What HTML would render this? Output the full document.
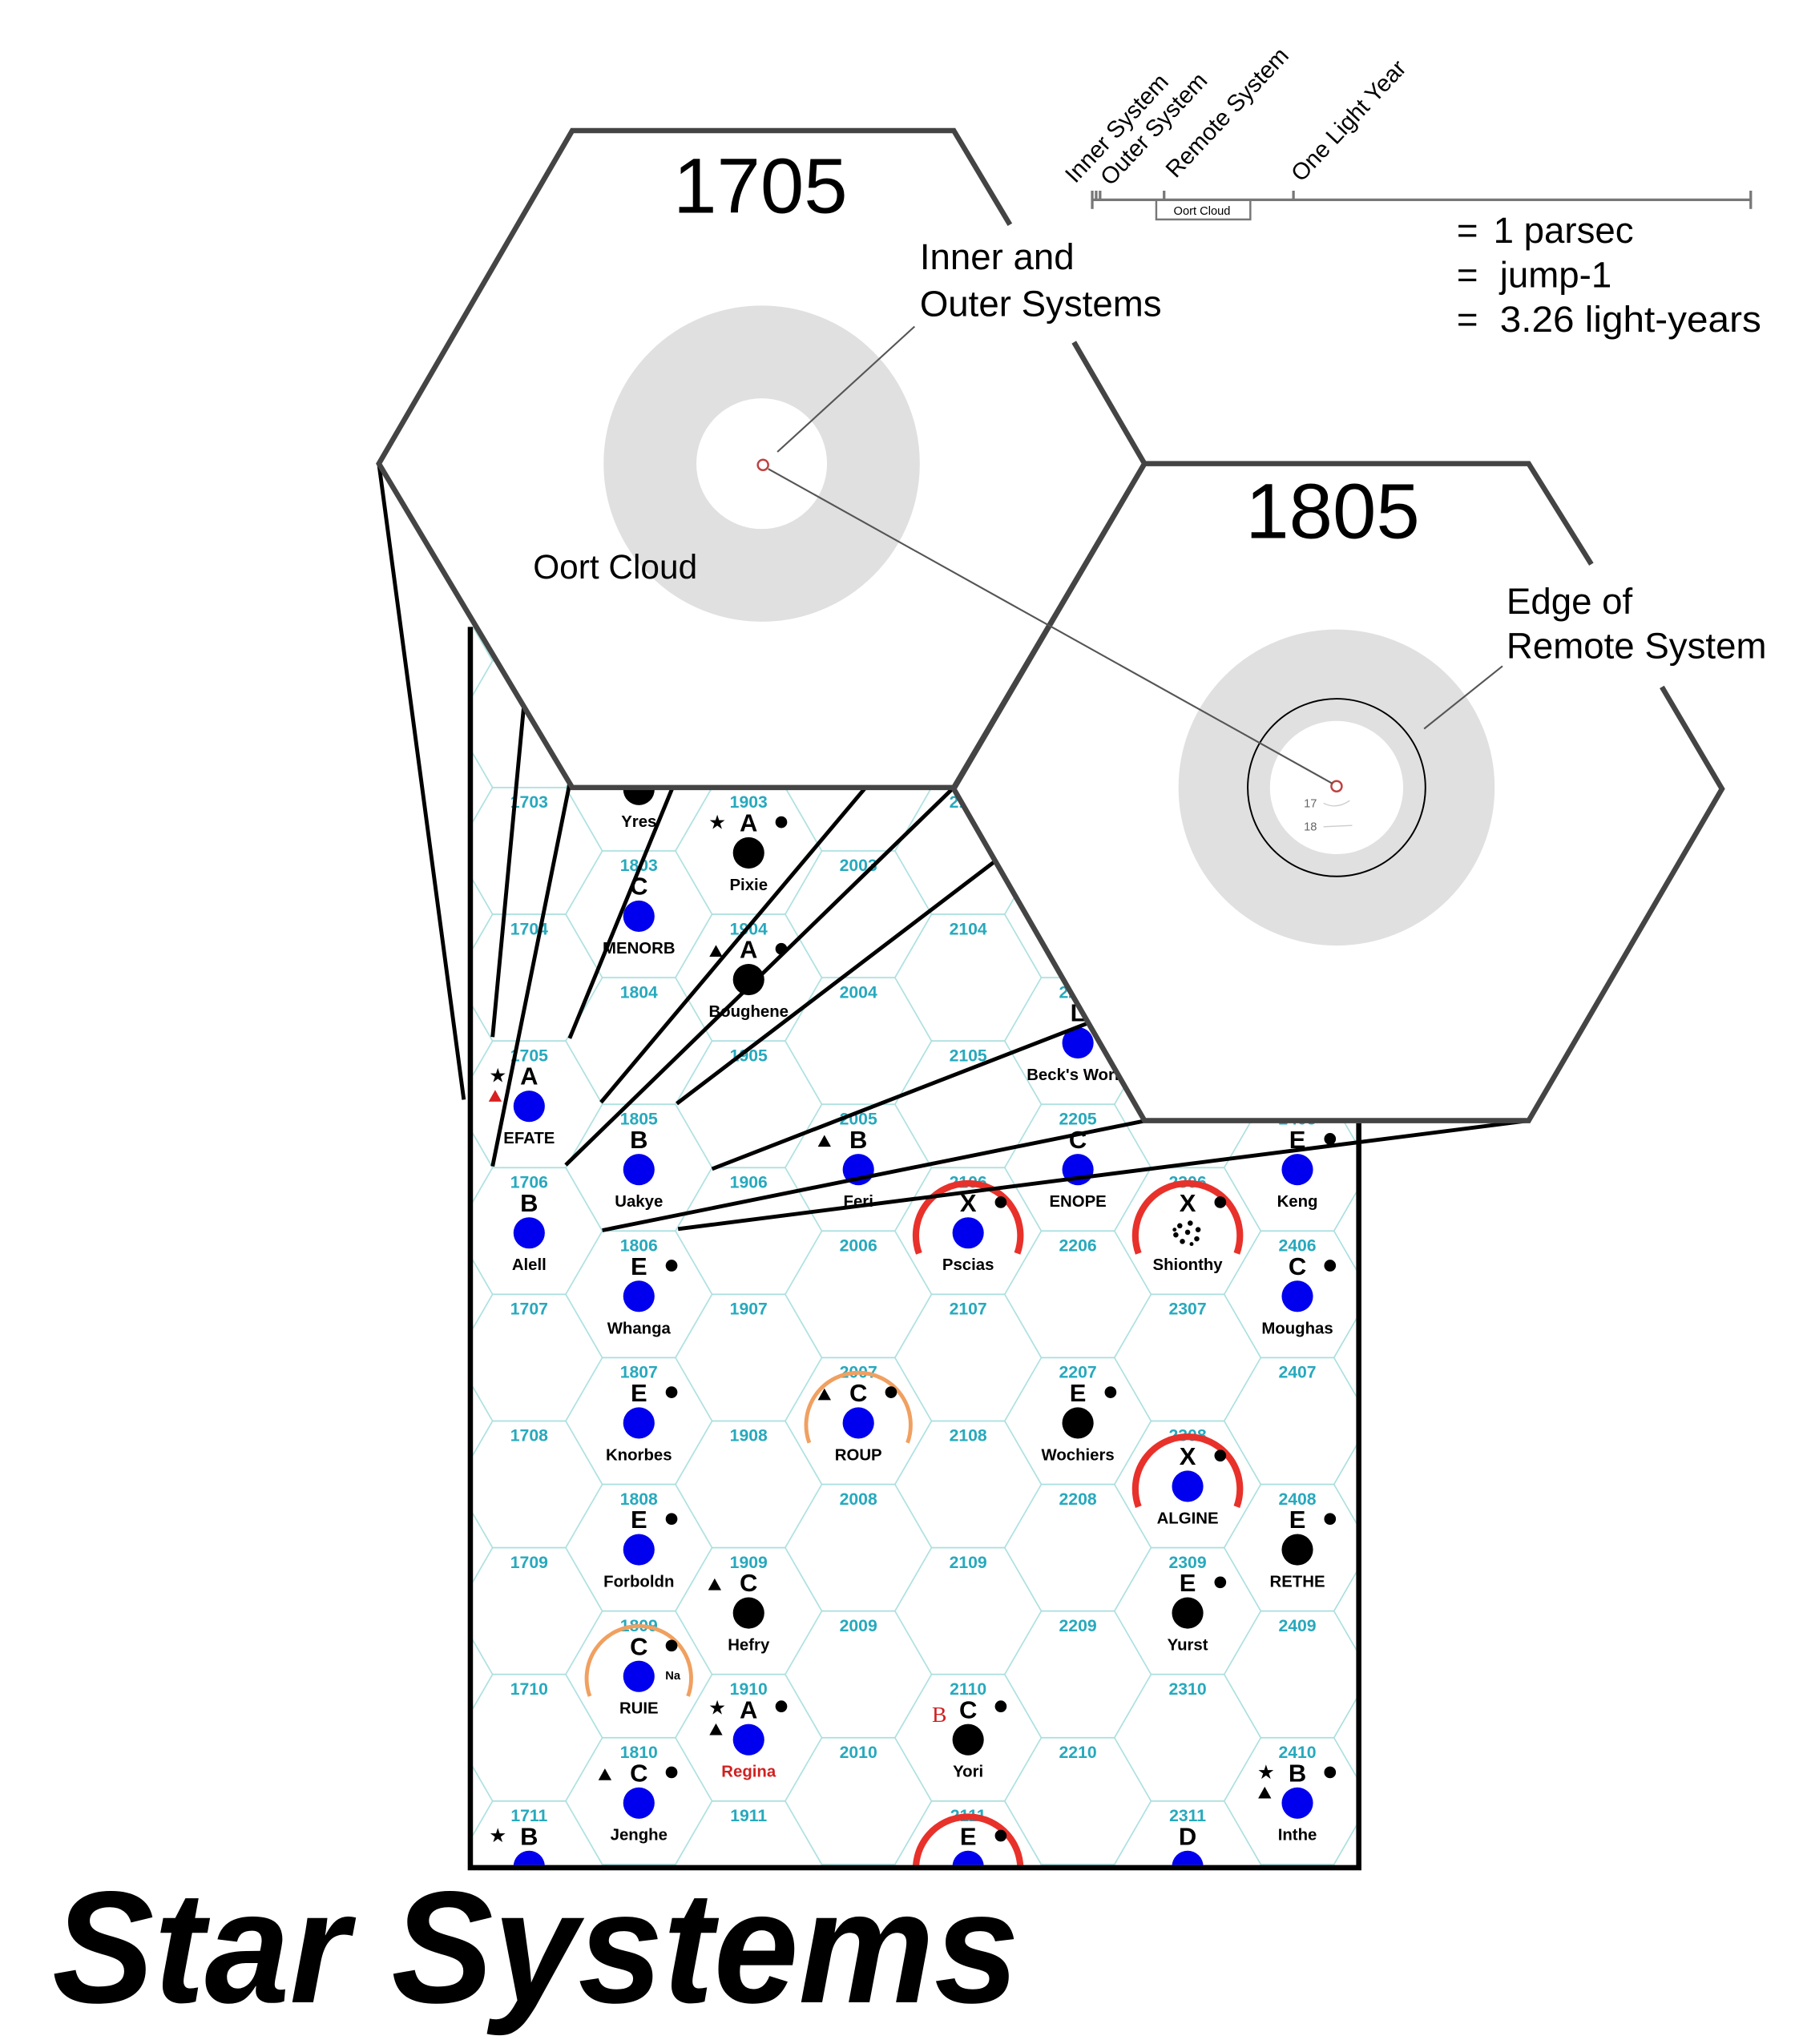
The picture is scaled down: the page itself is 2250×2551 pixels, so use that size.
<!DOCTYPE html>
<html><head><meta charset="utf-8">
<style>
html,body{margin:0;padding:0;background:#fff;}
svg{display:block;}
.lb{font:bold 13px "Liberation Sans",sans-serif;fill:#27a9bd;text-anchor:middle;}
.sp{font:bold 19px "Liberation Sans",sans-serif;fill:#000;text-anchor:middle;}
.nm{font:bold 12.5px "Liberation Sans",sans-serif;fill:#000;text-anchor:middle;}
.sm{font:15px "Liberation Sans",sans-serif;fill:#000;text-anchor:middle;}
.big{font:28px "Liberation Sans",sans-serif;fill:#000;}
</style></head><body>
<svg width="2250" height="2551" viewBox="0 0 1380 1565" preserveAspectRatio="none" xmlns="http://www.w3.org/2000/svg">
<defs>
<clipPath id="mapclip"><rect x="362" y="480" width="676" height="948"/></clipPath>
<pattern id="hexpat" patternUnits="userSpaceOnUse" width="168" height="97" patternTransform="translate(321,700)">
<path d="M0 48.5 L28 48.5 L56 0 L112 0 L140 48.5 L168 48.5 M28 48.5 L56 97 L112 97 L140 48.5" fill="none" stroke="#a9dede" stroke-width="1"/>
</pattern>
</defs>
<rect width="1380" height="1565" fill="#fff"/>
<g clip-path="url(#mapclip)">
<rect x="362" y="480" width="676" height="948" fill="url(#hexpat)"/>

<!-- hex labels -->
<g class="lb">
<text x="405" y="618.5">1703</text><text x="405" y="715.5">1704</text><text x="405" y="812.5">1705</text><text x="405" y="909.5">1706</text><text x="405" y="1006.5">1707</text><text x="405" y="1103.5">1708</text><text x="405" y="1200.5">1709</text><text x="405" y="1297.5">1710</text><text x="405" y="1394.5">1711</text>
<text x="489" y="667">1803</text><text x="489" y="764">1804</text><text x="489" y="861">1805</text><text x="489" y="958">1806</text><text x="489" y="1055">1807</text><text x="489" y="1152">1808</text><text x="489" y="1249">1809</text><text x="489" y="1346">1810</text>
<text x="573" y="618.5">1903</text><text x="573" y="715.5">1904</text><text x="573" y="812.5">1905</text><text x="573" y="909.5">1906</text><text x="573" y="1006.5">1907</text><text x="573" y="1103.5">1908</text><text x="573" y="1200.5">1909</text><text x="573" y="1297.5">1910</text><text x="573" y="1394.5">1911</text>
<text x="657" y="667">2003</text><text x="657" y="764">2004</text><text x="657" y="861">2005</text><text x="657" y="958">2006</text><text x="657" y="1055">2007</text><text x="657" y="1152">2008</text><text x="657" y="1249">2009</text><text x="657" y="1346">2010</text>
<text x="741" y="618.5">2103</text><text x="741" y="715.5">2104</text><text x="741" y="812.5">2105</text><text x="741" y="909.5">2106</text><text x="741" y="1006.5">2107</text><text x="741" y="1103.5">2108</text><text x="741" y="1200.5">2109</text><text x="741" y="1297.5">2110</text><text x="741" y="1394.5">2111</text>
<text x="825" y="764">2204</text><text x="825" y="861">2205</text><text x="825" y="958">2206</text><text x="825" y="1055">2207</text><text x="825" y="1152">2208</text><text x="825" y="1249">2209</text><text x="825" y="1346">2210</text>
<text x="909" y="909.5">2306</text><text x="909" y="1006.5">2307</text><text x="909" y="1103.5">2308</text><text x="909" y="1200.5">2309</text><text x="909" y="1297.5">2310</text><text x="909" y="1394.5">2311</text>
<text x="993" y="861">2405</text><text x="993" y="958">2406</text><text x="993" y="1055">2407</text><text x="993" y="1152">2408</text><text x="993" y="1249">2409</text><text x="993" y="1346">2410</text>
</g>

<!-- arcs -->
<g fill="none" stroke-width="5" stroke="#e8312a">
<path d="M703.4 959.7 A40 40 0 1 1 778.6 959.7"/>
<path d="M871.4 959.7 A40 40 0 1 1 946.6 959.7"/>
<path d="M871.4 1153.7 A40 40 0 1 1 946.6 1153.7"/>
<path d="M703.4 1444.7 A40 40 0 1 1 778.6 1444.7"/>
</g>
<g fill="none" stroke-width="3" stroke="#f0a060">
<path d="M619.4 1104.7 A40 40 0 1 1 694.6 1104.7"/>
<path d="M451.4 1298.7 A40 40 0 1 1 526.6 1298.7"/>
</g>

<!-- systems -->
<g>
<g transform="translate(489,603)"><circle cy="1.5" r="12" fill="#000"/><text class="nm" y="30">Yres</text></g>
<g transform="translate(489,700)"><text class="sp" y="-15">C</text><circle cy="1.5" r="12" fill="#0000ee"/><text class="nm" y="30">MENORB</text></g>
<g transform="translate(573,651.5)"><text class="sp" y="-15">A</text><circle cy="1.5" r="12" fill="#000"/><text class="nm" y="30">Pixie</text><text class="sm" x="-24" y="-17">★</text><circle cx="25" cy="-22" r="4.5"/></g>
<g transform="translate(573,748.5)"><text class="sp" y="-15">A</text><circle cy="1.5" r="12" fill="#000"/><text class="nm" y="30">Boughene</text><path d="M-30 -16 L-20 -16 L-25 -25Z"/><circle cx="25" cy="-22" r="4.5"/></g>
<g transform="translate(825,797)"><text class="sp" y="-15">L</text><circle cy="1.5" r="12" fill="#0000ee"/><text class="nm" y="30">Beck's World</text></g>
<g transform="translate(405,845.5)"><text class="sp" y="-15">A</text><circle cy="1.5" r="12" fill="#0000ee"/><text class="nm" y="30">EFATE</text><text class="sm" x="-24" y="-17">★</text><path d="M-31 -2 L-21 -2 L-26 -11Z" fill="#d82020"/></g>
<g transform="translate(405,942.5)"><text class="sp" y="-15">B</text><circle cy="1.5" r="12" fill="#0000ee"/><text class="nm" y="30">Alell</text></g>
<g transform="translate(405,1427.5)"><text class="sp" y="-15">B</text><circle cy="1.5" r="12" fill="#0000ee"/><text class="sm" x="-24" y="-17">★</text></g>
<g transform="translate(489,894)"><text class="sp" y="-15">B</text><circle cy="1.5" r="12" fill="#0000ee"/><text class="nm" y="30">Uakye</text></g>
<g transform="translate(489,991)"><text class="sp" y="-15">E</text><circle cy="1.5" r="12" fill="#0000ee"/><text class="nm" y="30">Whanga</text><circle cx="25" cy="-22" r="4.5"/></g>
<g transform="translate(489,1088)"><text class="sp" y="-15">E</text><circle cy="1.5" r="12" fill="#0000ee"/><text class="nm" y="30">Knorbes</text><circle cx="25" cy="-22" r="4.5"/></g>
<g transform="translate(489,1185)"><text class="sp" y="-15">E</text><circle cy="1.5" r="12" fill="#0000ee"/><text class="nm" y="30">Forboldn</text><circle cx="25" cy="-22" r="4.5"/></g>
<g transform="translate(489,1282)"><text class="sp" y="-15">C</text><circle cy="1.5" r="12" fill="#0000ee"/><text class="nm" y="30">RUIE</text><circle cx="25" cy="-22" r="4.5"/><text x="26" y="4" style="font:bold 9px 'Liberation Sans',sans-serif" text-anchor="middle">Na</text></g>
<g transform="translate(489,1379)"><text class="sp" y="-15">C</text><circle cy="1.5" r="12" fill="#0000ee"/><text class="nm" y="30">Jenghe</text><path d="M-31 -16 L-21 -16 L-26 -25Z"/><circle cx="25" cy="-22" r="4.5"/></g>
<g transform="translate(573,1233.5)"><text class="sp" y="-15">C</text><circle cy="1.5" r="12" fill="#000"/><text class="nm" y="30">Hefry</text><path d="M-31 -16 L-21 -16 L-26 -25Z"/></g>
<g transform="translate(573,1330.5)"><text class="sp" y="-15">A</text><circle cy="1.5" r="12" fill="#0000ee"/><text class="nm" y="30" style="fill:#d02020">Regina</text><text class="sm" x="-24" y="-18">★</text><path d="M-30 -2 L-20 -2 L-25 -11Z"/><circle cx="25" cy="-24" r="4.5"/></g>
<g transform="translate(657,894)"><text class="sp" y="-15">B</text><circle cy="1.5" r="12" fill="#0000ee"/><text class="nm" y="30">Feri</text><path d="M-31 -16 L-21 -16 L-26 -25Z"/></g>
<g transform="translate(657,1088)"><text class="sp" y="-15">C</text><circle cy="1.5" r="12" fill="#0000ee"/><text class="nm" y="30">ROUP</text><path d="M-31 -16 L-21 -16 L-26 -25Z"/><circle cx="25" cy="-22" r="4.5"/></g>
<g transform="translate(741,942.5)"><text class="sp" y="-15">X</text><circle cy="1.5" r="12" fill="#0000ee"/><text class="nm" y="30">Pscias</text><circle cx="25" cy="-22" r="4.5"/></g>
<g transform="translate(741,1330.5)"><text class="sp" y="-15">C</text><circle cy="1.5" r="12" fill="#000"/><text class="nm" y="30">Yori</text><circle cx="25" cy="-24" r="4.5"/><text x="-22" y="-12" style="font:17px 'Liberation Serif',serif;fill:#d02020" text-anchor="middle">B</text></g>
<g transform="translate(741,1427.5)"><text class="sp" y="-15">E</text><circle cy="1.5" r="12" fill="#0000ee"/><circle cx="25" cy="-22" r="4.5"/></g>
<g transform="translate(825,894)"><text class="sp" y="-15">C</text><circle cy="1.5" r="12" fill="#0000ee"/><text class="nm" y="30">ENOPE</text></g>
<g transform="translate(825,1088)"><text class="sp" y="-15">E</text><circle cy="1.5" r="12" fill="#000"/><text class="nm" y="30">Wochiers</text><circle cx="25" cy="-22" r="4.5"/></g>
<g transform="translate(909,942.5)"><text class="sp" y="-15">X</text><text class="nm" y="30">Shionthy</text><circle cx="25" cy="-22" r="4.5"/>
<g fill="#000"><circle cx="-6" cy="-4" r="2"/><circle cx="2" cy="-6" r="2"/><circle cx="8" cy="-1" r="2"/><circle cx="-9" cy="3" r="2"/><circle cx="0" cy="1" r="2"/><circle cx="7" cy="6" r="2"/><circle cx="-4" cy="8" r="2"/><circle cx="3" cy="10" r="1.5"/><circle cx="-10" cy="-1" r="1.5"/></g></g>
<g transform="translate(909,1136.5)"><text class="sp" y="-15">X</text><circle cy="1.5" r="12" fill="#0000ee"/><text class="nm" y="30">ALGINE</text><circle cx="25" cy="-22" r="4.5"/></g>
<g transform="translate(909,1233.5)"><text class="sp" y="-15">E</text><circle cy="1.5" r="12" fill="#000"/><text class="nm" y="30">Yurst</text><circle cx="25" cy="-22" r="4.5"/></g>
<g transform="translate(909,1427.5)"><text class="sp" y="-15">D</text><circle cy="1.5" r="12" fill="#0000ee"/></g>
<g transform="translate(993,894)"><text class="sp" y="-15">E</text><circle cy="1.5" r="12" fill="#0000ee"/><text class="nm" y="30">Keng</text><circle cx="25" cy="-22" r="4.5"/></g>
<g transform="translate(993,991)"><text class="sp" y="-15">C</text><circle cy="1.5" r="12" fill="#0000ee"/><text class="nm" y="30">Moughas</text><circle cx="25" cy="-22" r="4.5"/></g>
<g transform="translate(993,1185)"><text class="sp" y="-15">E</text><circle cy="1.5" r="12" fill="#000"/><text class="nm" y="30">RETHE</text><circle cx="25" cy="-22" r="4.5"/></g>
<g transform="translate(993,1379)"><text class="sp" y="-15">B</text><circle cy="1.5" r="12" fill="#0000ee"/><text class="nm" y="30">Inthe</text><text class="sm" x="-24" y="-17">★</text><path d="M-30 -2 L-20 -2 L-25 -11Z"/><circle cx="25" cy="-22" r="4.5"/></g>
</g>
</g>

<!-- map frame -->
<g stroke="#000" stroke-width="4" fill="none">
<path d="M360 480 L360 1430 L1040 1430 L1040 860"/>
</g>

<!-- projection lines -->
<g stroke="#000" stroke-width="3" fill="none">
<line x1="290" y1="355" x2="355" y2="842"/>
<line x1="401" y1="540" x2="377" y2="794"/>
<line x1="436" y1="600" x2="377" y2="893"/>
<line x1="516" y1="600" x2="436" y2="795"/>
<line x1="665" y1="600" x2="460" y2="844"/>
<line x1="731" y1="602" x2="433" y2="892"/>
<line x1="770" y1="653" x2="518" y2="845"/>
<line x1="880" y1="765" x2="545" y2="895"/>
<line x1="877" y1="858" x2="461" y2="942"/>
<line x1="1170" y1="858" x2="519" y2="941"/>
</g>

<!-- big hexes -->
<polygon points="290,355 438,100 730,100 876,355 730,603 438,603" fill="#fff"/>
<polygon points="730,604 876,355 1170,355 1318,604 1170,858 876,858" fill="#fff"/>
<g stroke="#444" stroke-width="4" fill="none">
<path d="M773 172 L730 100 L438 100 L290 355 L438 603 L730 603 L876 355 L822 262"/>
<path d="M1218 432 L1170 355 L876 355 L730 604 L876 858 L1170 858 L1318 604 L1272 526"/>
</g>

<!-- annuli -->
<circle cx="583" cy="355" r="85.5" fill="none" stroke="#e0e0e0" stroke-width="71"/>
<circle cx="1023" cy="603" r="86" fill="none" stroke="#e0e0e0" stroke-width="70"/>
<circle cx="1023" cy="603" r="68" fill="none" stroke="#000" stroke-width="1.2"/>
<circle cx="584" cy="356" r="4" fill="#fff" stroke="#c04040" stroke-width="1.5"/>
<circle cx="1023" cy="602" r="4" fill="#fff" stroke="#c04040" stroke-width="1.5"/>
<text x="1003" y="618" style="font:9px 'Liberation Sans',sans-serif;fill:#666" text-anchor="middle">17</text>
<text x="1003" y="636" style="font:9px 'Liberation Sans',sans-serif;fill:#666" text-anchor="middle">18</text>
<path d="M1013 615 Q1023 620 1033 613 M1013 633 L1035 632" stroke="#ccc" fill="none" stroke-width="0.8"/>

<!-- leader lines -->
<g stroke="#555" stroke-width="1.3" fill="none">
<line x1="588" y1="359" x2="1020" y2="600"/>
<line x1="595" y1="346" x2="700" y2="250"/>
<line x1="1090" y1="558" x2="1150" y2="510"/>
</g>

<!-- texts -->
<text x="582" y="163" text-anchor="middle" style="font:60px 'Liberation Sans',sans-serif">1705</text>
<text x="1020" y="412" text-anchor="middle" style="font:60px 'Liberation Sans',sans-serif">1805</text>
<text class="big" x="704" y="206">Inner and</text>
<text class="big" x="704" y="242">Outer Systems</text>
<text x="408" y="443" style="font:26px 'Liberation Sans',sans-serif">Oort Cloud</text>
<text class="big" x="1153" y="470">Edge of</text>
<text class="big" x="1153" y="504">Remote System</text>

<!-- scale bar -->
<g stroke="#777" stroke-width="2" fill="none">
<line x1="836" y1="153" x2="1340" y2="153"/>
<line x1="836" y1="146" x2="836" y2="160"/>
<line x1="839" y1="146" x2="839" y2="153"/>
<line x1="842" y1="146" x2="842" y2="153"/>
<line x1="891" y1="146" x2="891" y2="153"/>
<line x1="990" y1="146" x2="990" y2="153"/>
<line x1="1340" y1="146" x2="1340" y2="160"/>
<path d="M885 153 L885 168 L957 168 L957 153" stroke-width="1.5"/>
</g>
<text x="920" y="164.5" text-anchor="middle" style="font:9px 'Liberation Sans',sans-serif">Oort Cloud</text>
<g style="font:18px 'Liberation Sans',sans-serif">
<text transform="translate(823,141) rotate(-47)">Inner System</text>
<text transform="translate(850,143) rotate(-47)">Outer System</text>
<text transform="translate(900,137) rotate(-47)">Remote System</text>
<text transform="translate(996,140) rotate(-47)">One Light Year</text>
</g>
<text class="big" x="1115" y="186">=</text><text class="big" x="1143" y="186">1 parsec</text>
<text class="big" x="1115" y="220">=</text><text class="big" x="1148" y="220">jump-1</text>
<text class="big" x="1115" y="254">=</text><text class="big" x="1148" y="254" textLength="200" lengthAdjust="spacingAndGlyphs">3.26 light-years</text>

<text x="40" y="1533" textLength="740" lengthAdjust="spacingAndGlyphs" style="font:italic bold 122px 'Liberation Sans',sans-serif">Star Systems</text>
</svg>
</body></html>
